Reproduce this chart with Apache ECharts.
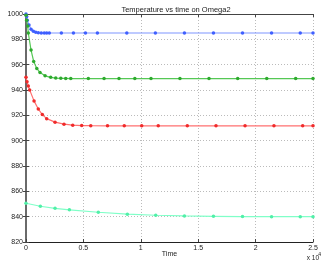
<!DOCTYPE html>
<html><head><meta charset="utf-8">
<script src="https://cdn.jsdelivr.net/npm/echarts@6/dist/echarts.min.js"></script>
<style>html,body{margin:0;padding:0;background:#fff}#c{width:322px;height:262px}</style>
</head><body><div id="c"></div>
<script>
const title = 'Temperature vs time on Omega2';
const xTicks = [0, 0.5, 1, 1.5, 2, 2.5];
const yTicks = [820, 840, 860, 880, 900, 920, 940, 960, 980, 1000];

const blueT = [0, 60, 110, 260, 440, 640, 850, 1070, 1330, 1590, 1800, 2030, 3080, 4130, 5180, 6220, 8780, 11270, 13800, 16330, 18860, 21390, 23890, 25000];
const blueU = [1000, 998, 995, 991.3, 988, 986.3, 985.5, 985.2, 985.05, 985, 985, 985, 985, 985, 985, 985, 985, 985, 985, 985, 985, 985, 985, 985];

const greenT = [0, 60, 150, 200, 440, 670, 940, 1220, 1660, 2150, 2590, 3030, 3460, 3900, 5430, 6800, 8100, 9480, 10890, 13410, 15940, 18440, 20970, 23490, 25000];
const greenU = [999, 995, 990.5, 985, 971.5, 962.5, 957, 953.8, 951.2, 950, 949.4, 949.2, 949.1, 949, 949, 949, 949, 949, 949, 949, 949, 949, 949, 949, 949];

const redT = [0, 90, 200, 320, 700, 1070, 1420, 1800, 2530, 3310, 4070, 4850, 5640, 7100, 8560, 10080, 11520, 14050, 16550, 19080, 21600, 24100, 25000];
const redU = [950, 946.6, 943.2, 940, 931.4, 925, 920.6, 917.4, 914.6, 913, 912.2, 911.9, 911.8, 911.7, 911.7, 911.7, 911.7, 911.7, 911.7, 911.7, 911.7, 911.7, 911.7];

const cyanT = [0, 1250, 2530, 3780, 6300, 8830, 11300, 13800, 16330, 18860, 21390, 23890, 25000];
const cyanU = [850.6, 848.2, 846.6, 845.4, 843.5, 842.0, 841.1, 840.6, 840.3, 840.1, 840.0, 840.0, 840.0];

const pair = (t, u) => t.map((v, i) => [v, u[i]]);
const font = 'Liberation Sans, Arial, sans-serif';

function ser(name, t, u, line, mark) {
  return {
    name, type: 'line', data: pair(t, u), symbol: 'circle', symbolSize: 3.5,
    lineStyle: { color: line, width: 1.2 }, itemStyle: { color: mark, borderWidth: 0 },
    z: 3, animation: false
  };
}

const chart = echarts.init(document.getElementById('c'), null, { renderer: 'canvas' });
chart.setOption({
  animation: false,
  backgroundColor: '#fff',
  title: { text: title, left: 171, top: 1, textAlign: 'center',
    textStyle: { fontSize: 7.5, fontWeight: 'normal', color: '#222', fontFamily: font } },
  grid: { left: 26, right: 9, top: 14, bottom: 20, containLabel: false, outerBoundsMode: 'none' },
  xAxis: [{
    type: 'value', min: 0, max: 25000, interval: 5000,
    name: 'Time', nameLocation: 'middle', nameGap: 9, nameMoveOverlap: false,
    nameTextStyle: { fontSize: 7, color: '#222', fontFamily: font },
    axisLine: { show: true, lineStyle: { color: '#222', width: 1 } },
    axisTick: { show: true, inside: true, length: 3, lineStyle: { color: '#444' } },
    axisLabel: { fontSize: 7, color: '#222', margin: 3, fontFamily: font,
      formatter: v => String(Math.round(v / 1000) / 10) },
    splitLine: { show: true, lineStyle: { color: '#bbb', type: [1, 2], width: 1 } }
  }, {
    type: 'value', position: 'top', min: 0, max: 25000, interval: 5000,
    axisLine: { show: true, lineStyle: { color: '#444', width: 1 } },
    axisTick: { show: true, inside: true, length: 3, lineStyle: { color: '#444' } },
    axisLabel: { show: false }, splitLine: { show: false }
  }],
  yAxis: [{
    type: 'value', min: 820, max: 1000, interval: 20,
    name: 'u2', nameLocation: 'middle', nameGap: 17, nameRotate: 90,
    nameTextStyle: { fontSize: 7, color: '#222', fontFamily: font },
    axisLine: { show: true, lineStyle: { color: '#777', width: 2 } },
    axisTick: { show: true, inside: true, length: 3, lineStyle: { color: '#444' } },
    axisLabel: { fontSize: 7, color: '#222', margin: 3, fontFamily: font, formatter: v => String(v) },
    splitLine: { show: true, lineStyle: { color: '#bbb', type: [1, 2], width: 1 } }
  }, {
    type: 'value', position: 'right', min: 820, max: 1000, interval: 20,
    axisLine: { show: true, lineStyle: { color: '#666', width: 1.5 } },
    axisTick: { show: true, inside: true, length: 3, lineStyle: { color: '#444' } },
    axisLabel: { show: false }, splitLine: { show: false }
  }],
  graphic: [{
    type: 'text', right: 3, bottom: 0,
    style: { text: 'x 10', fontSize: 6.5, fill: '#222', fontFamily: font }
  }, {
    type: 'text', right: 1, bottom: 5,
    style: { text: '4', fontSize: 5, fill: '#222', fontFamily: font }
  }],
  series: [
    ser('blue', blueT, blueU, '#7f95ff', '#3f5fff'),
    ser('green', greenT, greenU, '#55c855', '#2eaa2e'),
    ser('red', redT, redU, '#ff7070', '#f02a2a'),
    ser('cyan', cyanT, cyanU, '#80ffc8', '#50f0a8')
  ]
});
</script></body></html>
